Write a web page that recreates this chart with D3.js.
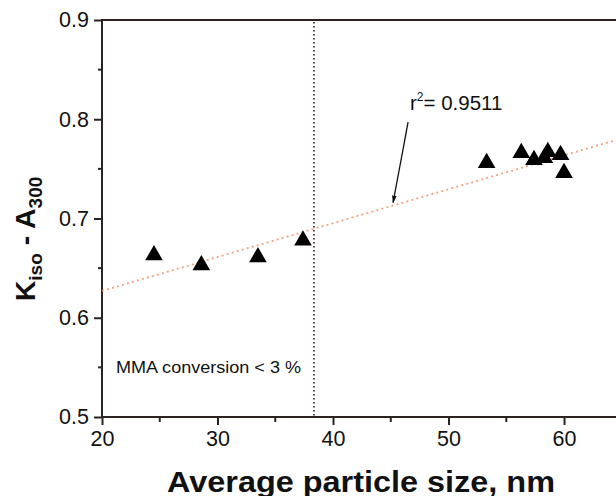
<!DOCTYPE html>
<html>
<head>
<meta charset="utf-8">
<script src="https://cdn.jsdelivr.net/npm/d3@7"></script>
<style>
  body { margin: 0; background: #fff; }
  svg { display: block; font-family: "Liberation Sans", Arial, sans-serif; }
</style>
</head>
<body>
<div id="chart"></div>
<script>
const particleSize = [24.5, 28.6, 33.5, 37.4, 53.3, 56.3, 57.4, 58.3, 58.6, 59.7, 60.0]
const kIsoA300 = [0.663, 0.653, 0.661, 0.678, 0.756, 0.766, 0.759, 0.761, 0.767, 0.764, 0.746]

// Regressionsgerade: Endpunkte
const fitX = [20, 64.5]
const fitY = [0.627, 0.779]

const xTicks = [20, 30, 40, 50, 60]
const yTicks = [0.5, 0.6, 0.7, 0.8, 0.9]
const xMinor = [25, 35, 45, 55]
const yMinor = [0.55, 0.65, 0.75, 0.85]

const conversionLimit = 38.35
const arrowFrom = [46.5, 0.797]
const arrowTo = [45.2, 0.716]

const W = 616, H = 496
const margin = { top: 20, right: 0, bottom: 79, left: 102 }
const axisColor = "#2b2222"
const font = "Liberation Sans, Arial, sans-serif"

const svg = d3.select("#chart").append("svg")
  .attr("width", W)
  .attr("height", H)

const x = d3.scaleLinear().domain([20, 64.5]).range([margin.left, W - margin.right])
const y = d3.scaleLinear().domain([0.5, 0.9]).range([H - margin.bottom, margin.top])

svg.append("defs").append("marker")
  .attr("id", "arrow")
  .attr("viewBox", "0 0 10 10")
  .attr("refX", 9).attr("refY", 5)
  .attr("markerWidth", 6).attr("markerHeight", 10)
  .attr("orient", "auto")
  .append("path")
  .attr("d", "M0,2 L10,5 L0,8 Z")
  .attr("fill", "#111")

// Achsen
const xAxis = d3.axisBottom(x).tickValues(xTicks).tickSize(8).tickPadding(6).tickFormat(d3.format("d"))
const yAxis = d3.axisLeft(y).tickValues(yTicks).tickSize(8).tickPadding(5).tickFormat(d3.format(".1f"))

const gx = svg.append("g")
  .attr("transform", "translate(0," + y(0.5) + ")")
  .call(xAxis)
gx.select(".domain").remove()
gx.selectAll(".tick line").attr("stroke", axisColor).attr("stroke-width", 2)
gx.selectAll(".tick text").attr("font-size", 21.5).attr("fill", "#111").style("font-family", font)

const gy = svg.append("g")
  .attr("transform", "translate(" + x(20) + ",0)")
  .call(yAxis)
gy.select(".domain").remove()
gy.selectAll(".tick line").attr("stroke", axisColor).attr("stroke-width", 2)
gy.selectAll(".tick text").attr("font-size", 21.5).attr("fill", "#111").style("font-family", font)

// kleine Ticks
svg.selectAll(".xminor").data(xMinor).enter().append("line")
  .attr("x1", d => x(d)).attr("x2", d => x(d))
  .attr("y1", y(0.5)).attr("y2", y(0.5) + 5)
  .attr("stroke", axisColor).attr("stroke-width", 2)

svg.selectAll(".yminor").data(yMinor).enter().append("line")
  .attr("x1", x(20) - 4).attr("x2", x(20))
  .attr("y1", d => y(d)).attr("y2", d => y(d))
  .attr("stroke", axisColor).attr("stroke-width", 2)

// Rahmen: links, unten, oben
svg.append("line")
  .attr("x1", x(20)).attr("x2", x(20)).attr("y1", y(0.9) - 1).attr("y2", y(0.5) + 1)
  .attr("stroke", axisColor).attr("stroke-width", 2)
svg.append("line")
  .attr("x1", x(20)).attr("x2", W).attr("y1", y(0.5)).attr("y2", y(0.5))
  .attr("stroke", axisColor).attr("stroke-width", 2)
svg.append("line")
  .attr("x1", x(20)).attr("x2", W).attr("y1", y(0.9)).attr("y2", y(0.9))
  .attr("stroke", axisColor).attr("stroke-width", 2)

// Grenze MMA-Umsatz
svg.append("line")
  .attr("x1", x(conversionLimit)).attr("x2", x(conversionLimit))
  .attr("y1", y(0.9) + 2).attr("y2", y(0.5) - 1)
  .attr("stroke", "#3a1818").attr("stroke-width", 1.6)
  .attr("stroke-dasharray", "1.6,2.4")

// Regressionsgerade
svg.append("line")
  .attr("x1", x(fitX[0])).attr("y1", y(fitY[0]))
  .attr("x2", x(fitX[1])).attr("y2", y(fitY[1]))
  .attr("stroke", "#f5a27c").attr("stroke-width", 1.8)
  .attr("stroke-dasharray", "2,3.2")

// Datenpunkte
const data = particleSize.map((d, i) => ({ x: d, y: kIsoA300[i] }))
svg.selectAll(".pt").data(data).enter().append("path")
  .attr("class", "pt")
  .attr("d", d3.symbol(d3.symbolTriangle, 135))
  .attr("transform", d => "translate(" + x(d.x) + "," + y(d.y) + ")")
  .attr("fill", "#000")

// Pfeil + r²
svg.append("line")
  .attr("x1", x(arrowFrom[0])).attr("y1", y(arrowFrom[1]))
  .attr("x2", x(arrowTo[0])).attr("y2", y(arrowTo[1]))
  .attr("stroke", "#111").attr("stroke-width", 1.3)
  .attr("marker-end", "url(#arrow)")

const r2 = svg.append("text")
  .attr("x", 410).attr("y", 110)
  .attr("font-size", 20.5).attr("fill", "#111")
r2.append("tspan").text("r")
r2.append("tspan").attr("font-size", 12).attr("dy", -9).text("2")
r2.append("tspan").attr("dy", 9).text("= 0.9511")

svg.append("text")
  .attr("x", 116).attr("y", 372.5)
  .attr("font-size", 17).attr("fill", "#111")
  .attr("textLength", 185).attr("lengthAdjust", "spacingAndGlyphs")
  .text("MMA conversion < 3 %")

// Achsentitel
svg.append("text")
  .attr("x", 167).attr("y", 491.5)
  .attr("font-size", 29).attr("font-weight", "bold").attr("fill", "#111")
  .attr("textLength", 388).attr("lengthAdjust", "spacingAndGlyphs")
  .text("Average particle size, nm")

const yt = svg.append("text")
  .attr("transform", "translate(35,239) rotate(-90)")
  .attr("text-anchor", "middle")
  .attr("font-size", 28.5).attr("font-weight", "bold").attr("fill", "#111")
yt.append("tspan").text("K")
yt.append("tspan").attr("font-size", 19).attr("dy", 7).text("iso")
yt.append("tspan").attr("dy", -7).text(" - A")
yt.append("tspan").attr("font-size", 19).attr("dy", 7).text("300")
</script>
</body>
</html>
